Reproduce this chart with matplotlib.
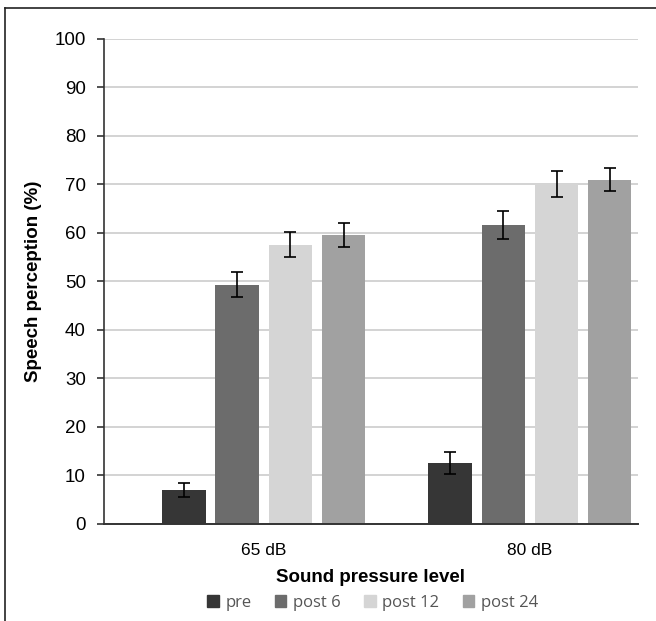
import numpy as np
import matplotlib
matplotlib.use("Agg")
import matplotlib.pyplot as plt
from matplotlib.lines import Line2D

# data
levels = ["65 dB", "80 dB"]
groups = ["pre", "post 6", "post 12", "post 24"]
means = {
    "pre": [6.9, 12.5],
    "post 6": [49.2, 61.6],
    "post 12": [57.5, 70.0],
    "post 24": [59.5, 70.9],
}
errs = {
    "pre": [1.5, 2.3],
    "post 6": [2.6, 2.9],
    "post 12": [2.6, 2.7],
    "post 24": [2.5, 2.3],
}
colors = ["#363636", "#6c6c6c", "#d5d5d5", "#a1a1a1"]
yticks = np.arange(0, 101, 10)

plt.rcParams["font.family"] = ["Liberation Sans", "DejaVu Sans"]

fig = plt.figure(figsize=(6.56, 6.21), dpi=100)
ax = fig.add_axes([0.1585, 0.157, 0.814, 0.781])

x = np.arange(len(levels))
step = 0.2
width = 0.163
for i, g in enumerate(groups):
    off = (i - 1.5) * step
    ax.bar(x + off, means[g], width, color=colors[i], label=g, zorder=2,
           yerr=errs[g], capsize=4.2,
           error_kw=dict(ecolor="black", elinewidth=1.2, capthick=1.2, zorder=3))

ax.set_xlim(-0.6, 1.406)
ax.set_ylim(0, 100)
ax.set_yticks(yticks)
ax.set_yticklabels([str(t) for t in yticks], fontsize=13.5)
ax.set_xticks(x)
ax.set_xticklabels(levels, fontsize=12.5)
ax.tick_params(axis="x", length=0, pad=14)
ax.tick_params(axis="y", direction="out", length=5, width=1.2, color="#333333", pad=8)

ax.yaxis.grid(True, color="#d0d0d0", linewidth=1.3, zorder=0)
ax.set_axisbelow(True)
for s in ["top", "right"]:
    ax.spines[s].set_visible(False)
ax.spines["left"].set_color("#333333")
ax.spines["left"].set_linewidth(1.2)
ax.spines["bottom"].set_color("#333333")
ax.spines["bottom"].set_linewidth(1.4)

ax.set_ylabel("Speech perception (%)", fontsize=13.5, fontweight="bold", labelpad=9)
ax.set_xlabel("Sound pressure level", fontsize=13.5, fontweight="bold", labelpad=8)

handles = [plt.Rectangle((0, 0), 1, 1, color=c) for c in colors]
leg = fig.legend(handles, groups, loc="center", bbox_to_anchor=(0.568, 0.029),
                 ncol=4, frameon=False, handlelength=0.7, handleheight=0.7,
                 handletextpad=0.4, columnspacing=1.4, prop={"family": "Open Sans", "size": 12})
for t in leg.get_texts():
    t.set_color("#555555")

# frame around the picture (top and left edges visible in the reference)
fig.add_artist(Line2D([5 / 656, 5 / 656], [0, 1 - 8 / 621], transform=fig.transFigure, color="#222222", lw=1.2))
fig.add_artist(Line2D([5 / 656, 1], [1 - 8 / 621, 1 - 8 / 621], transform=fig.transFigure, color="#222222", lw=1.2))

fig.savefig("out.png", dpi=100)
